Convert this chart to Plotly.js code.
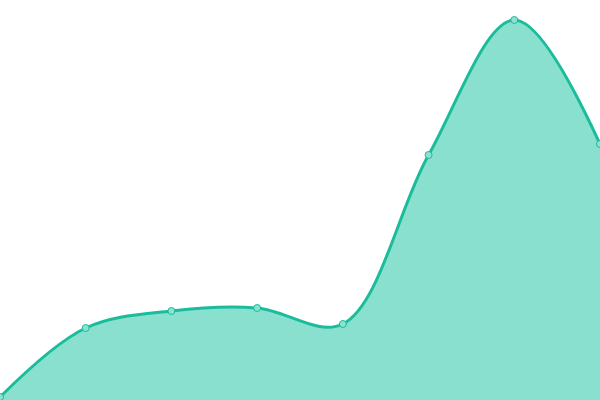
<!DOCTYPE html>
<html>
<head>
<meta charset="utf-8">
<script src="https://cdn.plot.ly/plotly-3.0.1.min.js"></script>
<style>html,body{margin:0;padding:0;background:#fff;}#chart{width:600px;height:400px;}</style>
</head>
<body>
<div id="chart"></div>
<script>
const categories = [0, 1, 2, 3, 4, 5, 6, 7];
const values = [3, 72, 89, 92, 76, 245, 380, 256];

Plotly.newPlot('chart', [{
  x: categories,
  y: values,
  type: 'scatter',
  mode: 'lines+markers',
  fill: 'tozeroy',
  fillcolor: '#89e0cf',
  line: {color: '#1abc9c', width: 3, shape: 'spline', smoothing: 1},
  marker: {size: 7, color: '#8ee0cf', line: {color: '#1abc9c', width: 1}},
  cliponaxis: false,
  hoverinfo: 'none'
}], {
  width: 600, height: 400,
  margin: {l: 0, r: 0, t: 0, b: 0, pad: 0},
  paper_bgcolor: '#fff', plot_bgcolor: '#fff',
  showlegend: false,
  xaxis: {range: [0, 7], visible: false, showgrid: false, zeroline: false, fixedrange: true},
  yaxis: {range: [0, 400], visible: false, showgrid: false, zeroline: false, fixedrange: true}
}, {displayModeBar: false, staticPlot: true});
</script>
</body>
</html>
